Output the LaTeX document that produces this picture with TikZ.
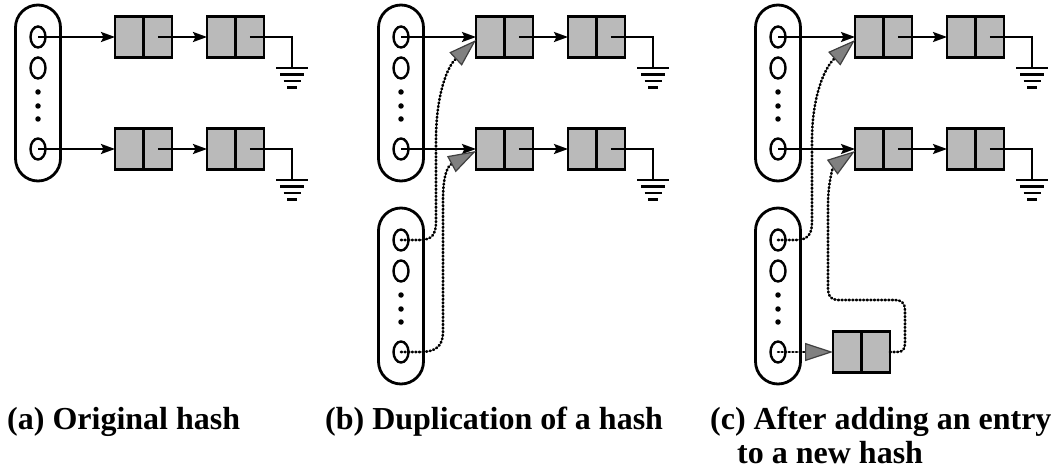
\documentclass[tikz,border=0pt]{standalone}
\usepackage{fontspec}
\setmainfont{Liberation Serif}
\usetikzlibrary{arrows.meta,shapes.geometric}

% hash table: capsule with two slots, an ellipsis and a last slot
% #1 name prefix, #2 x of the slots, #3 y of the first slot
\newcommand\hashtable[3]{%
  \node[table] (#1) at (#2,#3+56) {};
  \node[slot] (#1s1) at (#2,#3) {};
  \node[slot] (#1s2) at (#2,#3+31) {};
  \node[gap] (#1g1) at (#2,#3+55) {};
  \node[gap] (#1g2) at (#2,#3+69) {};
  \node[gap] (#1g3) at (#2,#3+82) {};
  \node[slot] (#1sn) at (#2,#3+112) {};
}

% chain of two entries ending in a ground symbol
% #1 name prefix, #2 x of the first entry, #3 y of the chain
\newcommand\hashchain[3]{%
  \node[cell,anchor=west] (#1ak) at (#2,#3) {};
  \node[cell,anchor=west] (#1ap) at (#1ak.east) {};
  \node[cell,anchor=west] (#1bk) at (#2+92,#3) {};
  \node[cell,anchor=west] (#1bp) at (#1bk.east) {};
  \coordinate (#1gnd) at (#2+177,#3+31);
  \draw[ptr] (#1ap.center) -- (#1bk.west);
  \draw[wire] (#1bp.center) -| (#1gnd);
  \pic at (#1gnd) {earth};
}

\begin{document}
\begin{tikzpicture}[x=1pt,y=-1pt,
  table/.style={draw,line width=2.8pt,rounded corners=22.5pt,minimum width=45pt,
    minimum height=176pt,inner sep=0pt},
  slot/.style={draw,ellipse,line width=2.4pt,minimum width=15pt,minimum height=21pt,inner sep=0pt},
  gap/.style={circle,fill,inner sep=0pt,minimum size=5.5pt},
  cell/.style={draw,line width=2.4pt,fill=black!27,minimum width=28.5pt,minimum height=41pt,
    inner sep=0pt,outer sep=0pt},
  ptr/.style={line width=2.2pt,-{Stealth[length=14pt,width=10pt,inset=2.5pt]}},
  wire/.style={line width=2.2pt},
  copyptr/.style={line width=2.6pt,dash pattern=on 1pt off 2.6pt,line cap=round,
    -{Triangle[length=28pt,width=18pt,fill=black!50,color=black!75,line width=1.2pt]}},
  caption/.style={font=\fontsize{32}{34}\selectfont\bfseries,anchor=base west,
    inner sep=0pt,align=left},
  earth/.pic={\draw[line width=2.6pt] (-16,0) -- (16,0) (-12,6.5) -- (12,6.5)
    (-8.5,13) -- (8.5,13) (-5,19.5) -- (5,19.5);}
]
\useasboundingbox (0,0) rectangle (1057,470);

% (a) original hash
\hashtable{A}{38}{37}
\hashchain{At}{115}{37}
\hashchain{Ab}{115}{149}
\draw[ptr] (As1.center) -- (Atak.west);
\draw[ptr] (Asn.center) -- (Abak.west);

% (b) duplicated hash sharing the chains
\hashtable{B}{401}{37}
\hashchain{Bt}{476}{37}
\hashchain{Bb}{476}{149}
\draw[ptr] (Bs1.center) -- (Btak.west);
\draw[ptr] (Bsn.center) -- (Bbak.west);
\hashtable{Bc}{401}{240}
\draw[copyptr] (Bcs1.center) -- (420,240) .. controls (432,240) and (436,234) .. (436,222)
  -- (436,140) .. controls (436,98) and (446,68) .. ([yshift=-3pt]Btak.west);
\draw[copyptr] (Bcsn.center) -- (420,352) .. controls (436,352) and (443,346) .. (443,332)
  -- (443,200) .. controls (443,174) and (448,166) .. ([yshift=-2pt]Bbak.west);

% (c) new entry added to the duplicated hash
\hashtable{C}{778}{37}
\hashchain{Ct}{855}{37}
\hashchain{Cb}{855}{149}
\draw[ptr] (Cs1.center) -- (Ctak.west);
\draw[ptr] (Csn.center) -- (Cbak.west);
\hashtable{Cc}{778}{240}
\node[cell,anchor=west] (Cnk) at (833,352) {};
\node[cell,anchor=west] (Cnp) at (Cnk.east) {};
\draw[copyptr] (Ccs1.center) -- (796,240) .. controls (808,240) and (812,234) .. (812,222)
  -- (812,140) .. controls (812,98) and (824,68) .. ([yshift=-3pt]Ctak.west);
\draw[copyptr] (Ccsn.center) -- (Cnk.west);
\draw[copyptr] (Cnp.east) -- (897,352) .. controls (903,352) and (905,349) .. (905,343)
  -- (905,310) .. controls (905,303) and (901,300) .. (895,300)
  -- (838,300) .. controls (831,300) and (828,296) .. (828,289)
  -- (828,205) .. controls (828,180) and (834,166) .. ([yshift=-2pt]Cbak.west);

% captions (a multi-line node sits on the baseline of its last line)
\node[caption] (capa) at (7,429) {(a) Original hash};
\node[caption] (capb) at (325,429) {(b) Duplication of a hash};
\node[caption] (capc) at (710,463) {(c) After adding an entry\\\hspace*{27pt}to a new hash};
\end{tikzpicture}
\end{document}
